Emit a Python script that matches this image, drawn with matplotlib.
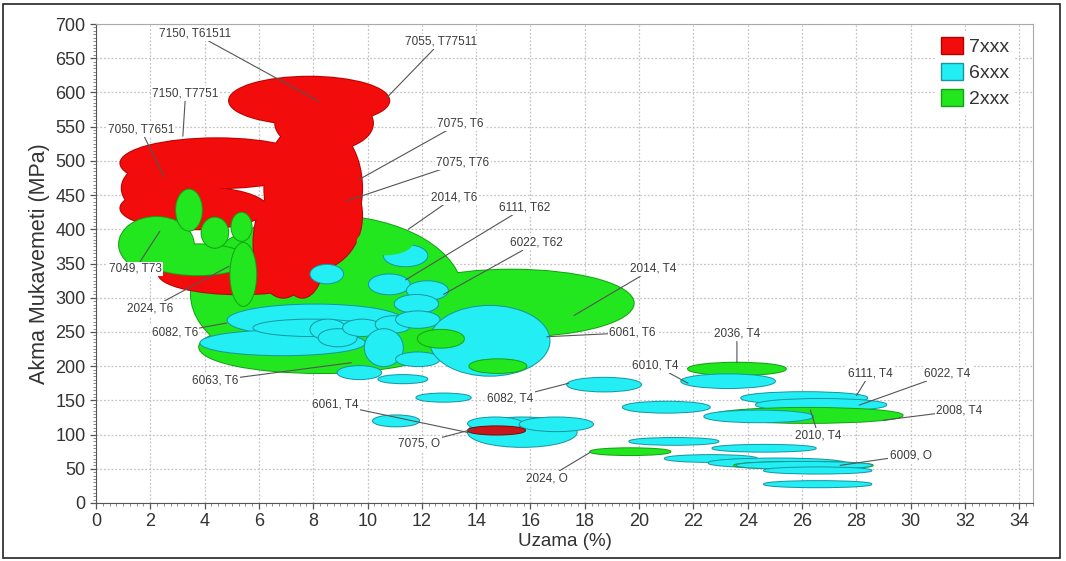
import matplotlib
matplotlib.use("Agg")
import matplotlib.pyplot as plt
from matplotlib.patches import Ellipse, Patch, Rectangle
from matplotlib.ticker import MultipleLocator

plt.rcParams['font.family'] = ['Liberation Sans', 'DejaVu Sans']

# Property windows of each alloy/temper, in drawing order (back to front).
# series: '7xxx', '6xxx', '2xxx' ; elongation in %, yield strength in MPa
alloy = [
    "2014, T6", "2014, T4", "6063, T6",
    "7150, T7751", "7050, T7651", "7xxx-a", "7049, T73", "7075, T6", "7075, T76",
    "7xxx-b", "7xxx-c", "7150, T61511", "7055, T77511",
    "2xxx-f", "2xxx-g", "2xxx-a", "2xxx-b", "2xxx-c", "2024, T6",
    "6082, T6", "6xxx-a", "6xxx-b", "6xxx-c", "6xxx-d", "6xxx-e", "6xxx-f",
    "6xxx-g", "2xxx-h", "6xxx-h", "6111, T62", "6xxx-i", "6022, T62", "6xxx-j",
    "6xxx-k", "6xxx-l", "6xxx-m", "6xxx-n", "6061, T6",
    "2xxx-d", "2xxx-e",
    "2036, T4", "6010, T4", "6082, T4", "6xxx-o", "6xxx-p", "6xxx-q",
    "6111, T4", "6022, T4", "2008, T4", "2010, T4",
    "6061, T4", "6xxx-r", "6xxx-s", "7075, O",
    "2024, O", "6xxx-t", "6xxx-u", "6xxx-v", "6xxx-w", "6009, O",
    "6xxx-x", "6xxx-y", "6xxx-z",
]
series = [
    "2xxx", "2xxx", "2xxx",
    "7xxx", "7xxx", "7xxx", "7xxx", "7xxx", "7xxx",
    "7xxx", "7xxx", "7xxx", "7xxx",
    "2xxx", "2xxx", "2xxx", "2xxx", "2xxx", "2xxx",
    "6xxx", "6xxx", "6xxx", "6xxx", "6xxx", "6xxx", "6xxx",
    "6xxx", "2xxx", "6xxx", "6xxx", "6xxx", "6xxx", "6xxx",
    "6xxx", "6xxx", "6xxx", "6xxx", "6xxx",
    "2xxx", "2xxx",
    "2xxx", "6xxx", "6xxx", "6xxx", "6xxx", "6xxx",
    "6xxx", "6xxx", "2xxx", "6xxx",
    "6xxx", "6xxx", "6xxx", "7xxx-O",
    "2xxx", "6xxx", "6xxx", "6xxx", "6xxx", "2xxx",
    "6xxx", "6xxx", "6xxx",
]
elong_lo = [
    3.5, 10.8, 3.8,
    0.9, 0.9, 0.95, 2.3, 6.2, 6.2,
    5.8, 6.8, 6.6, 4.9,
    0.85, 1.9, 2.95, 3.89, 4.99, 4.95,
    4.85, 3.85, 5.8, 7.9, 8.2, 9.1, 10.3,
    10.6, 9.6, 7.9, 10.05, 11.45, 11.0, 11.05,
    9.9, 11.05, 8.9, 10.4, 12.3,
    11.85, 13.75,
    21.8, 21.55, 17.35, 11.8, 10.2, 19.4,
    23.76, 24.3, 22.7, 22.4,
    13.7, 13.7, 15.6, 13.7,
    18.2, 19.64, 22.7, 20.95, 22.56, 23.5,
    23.6, 24.6, 24.6,
]
elong_hi = [
    13.5, 19.8, 12.6,
    8.0, 6.3, 4.0, 8.3, 9.8, 9.8,
    8.0, 8.4, 10.2, 10.8,
    3.6, 5.6, 3.9, 4.87, 5.73, 5.9,
    11.3, 9.9, 10.1, 9.2, 9.6, 10.5, 11.6,
    12.2, 11.7, 9.1, 11.55, 12.96, 12.6, 12.65,
    11.3, 12.65, 10.5, 12.2, 16.7,
    13.55, 15.85,
    25.4, 25.0, 20.07, 13.8, 11.9, 22.6,
    28.4, 29.1, 29.7, 26.4,
    17.7, 15.7, 18.3, 15.8,
    21.15, 22.92, 26.5, 24.33, 27.56, 28.6,
    28.55, 28.55, 28.55,
]
ys_lo = [
    190, 243, 190,
    460, 400, 420, 305, 360, 340,
    300, 300, 515, 553,
    338, 333, 398, 373, 383, 288,
    244, 216, 244, 239, 229, 244, 249,
    346, 362, 321, 305, 297, 278, 256,
    200, 200, 181, 175, 186,
    227, 190,
    187, 168, 163, 148, 112, 132,
    145, 135, 117, 118,
    82, 107, 105, 100,
    70, 85, 75, 60, 52, 50,
    50, 43, 23,
]
ys_hi = [
    420, 341, 266,
    533, 462, 500, 365, 560, 500,
    460, 420, 595, 623,
    418, 378, 458, 417, 424, 380,
    290, 252, 268, 268, 254, 268, 273,
    377, 402, 348, 334, 324, 304, 280,
    254, 220, 200, 187, 288,
    253, 210,
    205, 188, 183, 160, 128, 148,
    162, 152, 139, 135,
    125, 125, 125, 112,
    80, 95, 85, 70, 65, 60,
    60, 52, 32,
]

# Labelled alloys: leader end point (elongation, strength) and text anchor.
label_text = ["7150, T61511", "7055, T77511", "7150, T7751", "7050, T7651",
              "7075, T6", "7075, T76", "2014, T6", "6111, T62", "6022, T62",
              "2014, T4", "6061, T6", "2036, T4", "6010, T4", "6111, T4",
              "6022, T4", "2008, T4", "2010, T4", "6009, O", "6082, T4",
              "6061, T4", "7075, O", "2024, O", "6063, T6", "6082, T6",
              "2024, T6", "7049, T73"]
label_pt_x = [8.2, 10.7, 3.2, 2.5, 9.7, 9.2, 11.5, 11.4, 12.8, 17.6, 16.6,
              23.6, 21.8, 28.0, 28.1, 29.0, 26.3, 27.4, 17.4, 13.7, 13.9,
              18.2, 9.4, 4.8, 4.9, 2.35]
label_pt_y = [587, 592, 536, 477, 473, 441, 400, 326, 305, 274, 243, 205,
              175, 157, 143, 121, 136, 55, 175, 103, 108, 74, 205, 263, 346,
              397]
label_tx_x = [3.65, 12.7, 3.3, 1.65, 13.4, 13.5, 13.2, 15.8, 16.2, 20.5,
              19.75, 23.6, 20.6, 28.5, 31.35, 31.8, 26.6, 30.0, 15.25, 8.8,
              11.9, 16.6, 4.4, 2.9, 2.0, 1.45]
label_tx_y = [686, 674, 598, 546, 555, 498, 447, 432, 380, 342, 249, 247,
              201, 189, 189, 135, 99, 70, 153, 144, 87, 36, 179, 249, 284,
              342]

face = {"7xxx": "#f20c0c", "7xxx-O": "#c8171b", "6xxx": "#22eef4", "2xxx": "#22e61e"}
edge = {"7xxx": "#b80000", "7xxx-O": "#7a0a0a", "6xxx": "#1795a0", "2xxx": "#14a014"}

# index ranges that are drawn as one merged region (outline only on the outside)
merged_groups = [(0, 3), (3, 13), (13, 15)]
# windows that blend into the region beneath them without an outline
no_outline = {27}

fig = plt.figure(figsize=(10.66, 5.61), dpi=100)
ax = fig.add_axes([0.090, 0.1034, 0.879, 0.8538])

layers = []
i = 0
n = len(alloy)
while i < n:
    grp = next((g for g in merged_groups if g[0] == i), None)
    if grp:
        layers.append(list(range(grp[0], grp[1])))
        i = grp[1]
    else:
        layers.append([i])
        i += 1

for k, idx in enumerate(layers):
    z = 2 + 0.002 * k
    for j in idx:
        s = series[j]
        c = ((elong_lo[j] + elong_hi[j]) / 2, (ys_lo[j] + ys_hi[j]) / 2)
        w, h = elong_hi[j] - elong_lo[j], ys_hi[j] - ys_lo[j]
        if j not in no_outline:
            ax.add_patch(Ellipse(c, w, h, facecolor=face[s], edgecolor=edge[s],
                                 lw=1.4, zorder=z))
        ax.add_patch(Ellipse(c, w, h, facecolor=face[s], edgecolor="none",
                             zorder=z + 0.001))

for t, px, py, tx, ty in zip(label_text, label_pt_x, label_pt_y, label_tx_x, label_tx_y):
    ax.annotate(t, xy=(px, py), xytext=(tx, ty), fontsize=8.5, color="#3a3a3a",
                ha="center", va="center", zorder=4,
                bbox=dict(boxstyle="square,pad=0.12", fc="white", ec="none"),
                arrowprops=dict(arrowstyle="-", color="#555555", lw=0.8,
                                shrinkA=0, shrinkB=0))

ax.set_xlim(0, 34.5)
ax.set_ylim(0, 700)
ax.xaxis.set_major_locator(MultipleLocator(2))
ax.xaxis.set_minor_locator(MultipleLocator(0.25))
ax.yaxis.set_major_locator(MultipleLocator(50))
ax.yaxis.set_minor_locator(MultipleLocator(5))
ax.grid(True, which="major", linestyle=(0, (1.5, 1.5)), color="#c4c4c4", lw=0.9, zorder=0)
ax.set_axisbelow(True)
ax.tick_params(which="major", length=4, width=0.9, color="#555555",
               labelsize=13, labelcolor="#333333")
ax.tick_params(which="minor", length=2, width=0.6, color="#777777")
for side in ("left", "bottom"):
    ax.spines[side].set_color("#555555")
for side in ("top", "right"):
    ax.spines[side].set_color("#aaaaaa")

ax.set_xlabel("Uzama (%)", fontsize=13.5, color="#333333", labelpad=2)
ax.set_ylabel("Akma Mukavemeti (MPa)", fontsize=15.5, color="#333333", labelpad=4)

handles = [Patch(facecolor=face[k], edgecolor=edge[k], label=k)
           for k in ("7xxx", "6xxx", "2xxx")]
leg = ax.legend(handles=handles, loc="upper right", bbox_to_anchor=(0.981, 0.985),
                fontsize=14, frameon=True, fancybox=False, facecolor="white",
                edgecolor="none", framealpha=1.0, borderaxespad=0.0,
                handlelength=1.15, handleheight=0.95, handletextpad=0.3,
                labelspacing=0.35, borderpad=0.3)
leg.set_zorder(5)
for txt in leg.get_texts():
    txt.set_color("#333333")

fig.add_artist(Rectangle((0.003, 0.006), 0.991, 0.986, transform=fig.transFigure,
                         fill=False, edgecolor="#222222", lw=1.2))

fig.savefig("out.png", dpi=100)
